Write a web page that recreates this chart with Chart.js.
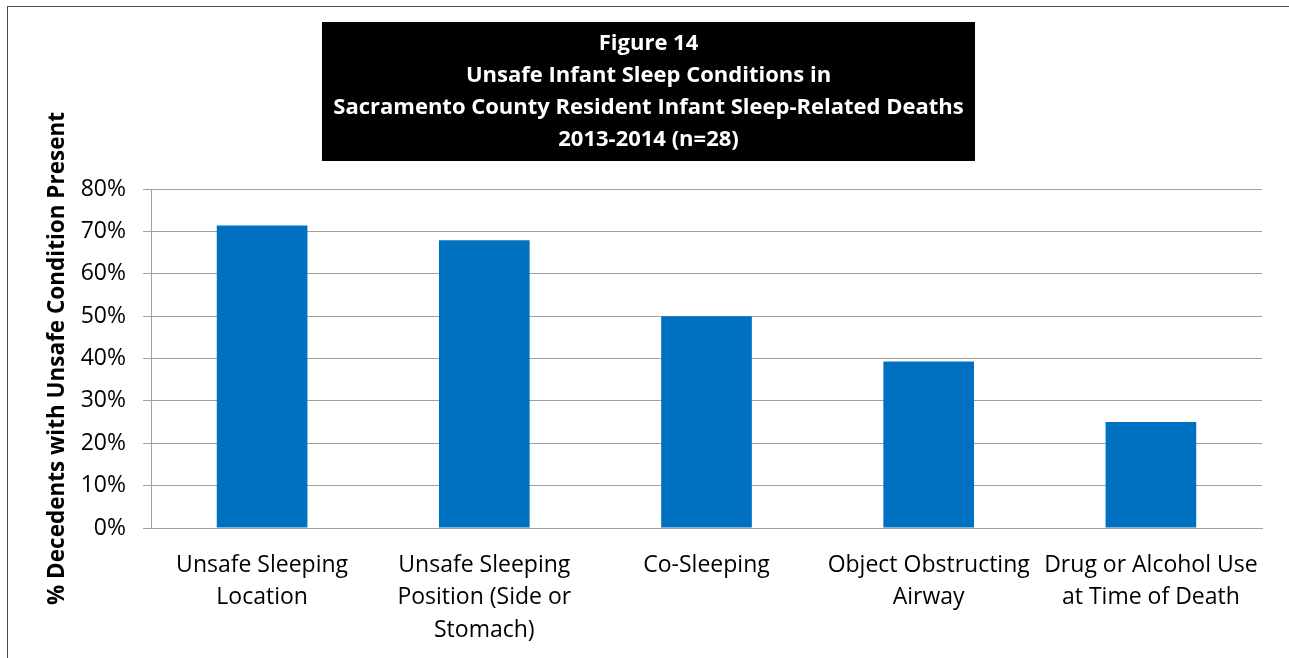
<!DOCTYPE html>
<html>
<head>
<meta charset="utf-8">
<script src="https://cdn.jsdelivr.net/npm/chart.js@4.4.0/dist/chart.umd.min.js"></script>
<style>
  html, body { margin: 0; padding: 0; background: #fff; }
  #wrap { position: relative; width: 1289px; height: 658px; }
  #frame { position: absolute; left: 7px; top: 6px; right: -2px; bottom: -2px;
           border-left: 1px solid #4d4d4d; border-top: 1px solid #4d4d4d; }
  canvas { position: absolute; left: 0; top: 0; }
</style>
</head>
<body>
<div id="wrap">
  <div id="frame"></div>
  <canvas id="sleepChart" width="1289" height="658"></canvas>
</div>
<script>
const conditions = [
    ['Unsafe Sleeping', 'Location'],
    ['Unsafe Sleeping', 'Position (Side or', 'Stomach)'],
    ['Co-Sleeping'],
    ['Object Obstructing', 'Airway'],
    ['Drug or Alcohol Use', 'at Time of Death']
];
const percentPresent = [71.4, 67.9, 50.0, 39.3, 25.0];
const yTicks = [0, 10, 20, 30, 40, 50, 60, 70, 80];
const chartTitle = [
    'Figure 14',
    'Unsafe Infant Sleep Conditions in',
    'Sacramento County Resident Infant Sleep-Related Deaths',
    '2013-2014 (n=28)'
];

const FONT = "'Open Sans', 'DejaVu Sans', sans-serif";

// black box behind the title, like the excel figure
const titleBox = {
    id: 'titleBox',
    beforeDraw: (chart) => {
        const t = chart.titleBlock;
        if (!t) return;
        const ctx = chart.ctx;
        const cx = (t.left + t.right) / 2;
        const top = t.top + t.options.padding.top - 6;
        const bottom = t.bottom - t.options.padding.bottom + 5;
        ctx.save();
        ctx.fillStyle = '#000';
        ctx.fillRect(Math.round(cx - 326.5), top, 653, bottom - top);
        ctx.restore();
    }
};

const ctx = document.getElementById('sleepChart').getContext('2d');
const sleepChart = new Chart(ctx, {
    type: 'bar',
    data: {
        labels: conditions,
        datasets: [{
            label: '% Decedents',
            data: percentPresent,
            backgroundColor: '#0070C0',
            borderWidth: 0,
            barPercentage: 0.408,
            categoryPercentage: 1
        }]
    },
    options: {
        responsive: false,
        animation: false,
        layout: { padding: { left: 35, right: 27, top: 0, bottom: 0 } },
        plugins: {
            legend: { display: false },
            tooltip: { enabled: false },
            title: {
                display: true,
                text: chartTitle,
                color: '#fff',
                font: { family: FONT, size: 22, weight: 'bold', lineHeight: 32 / 22 },
                padding: { top: 28, bottom: 33 }
            }
        },
        scales: {
            x: {
                grid: { display: false, drawTicks: false },
                border: { display: true, color: '#a0a0a0', width: 1 },
                ticks: {
                    color: '#000',
                    padding: 21,
                    maxRotation: 0,
                    autoSkip: false,
                    font: { family: FONT, size: 23, lineHeight: 32.5 / 23 }
                },
                afterFit: (scale) => { scale.height = 130; }
            },
            y: {
                min: 0,
                max: 80,
                afterBuildTicks: (scale) => {
                    scale.ticks = yTicks.map(v => ({ value: v }));
                },
                grid: { color: '#a0a0a0', tickLength: 8, lineWidth: 1 },
                border: { display: true, color: '#a0a0a0', width: 1 },
                ticks: {
                    color: '#000',
                    padding: 17,
                    font: { family: FONT, size: 23 },
                    callback: (v) => v + '%'
                },
                title: {
                    display: true,
                    text: '% Decedents with Unsafe Condition Present',
                    color: '#000',
                    font: { family: FONT, size: 22.5, weight: 'bold' },
                    padding: { top: 9, bottom: 0 }
                },
                afterFit: (scale) => { scale.width = 116; }
            }
        }
    },
    plugins: [titleBox]
});
</script>
</body>
</html>
